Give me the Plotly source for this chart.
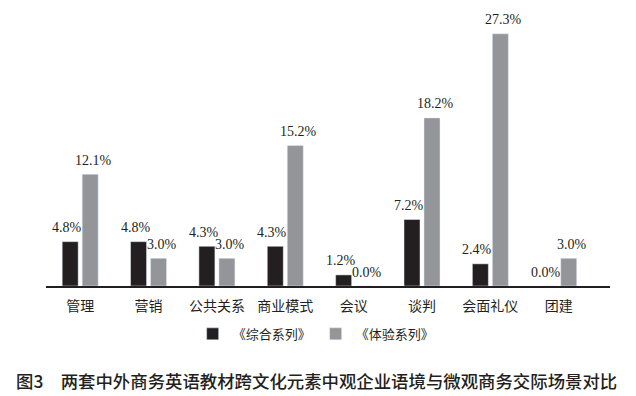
import plotly.graph_objects as go

categories = ["管理", "营销", "公共关系", "商业模式", "会议", "谈判", "会面礼仪", "团建"]
series_names = ["《综合系列》", "《体验系列》"]
zonghe = [4.8, 4.8, 4.3, 4.3, 1.2, 7.2, 2.4, 0.0]
tiyan = [12.1, 3.0, 3.0, 15.2, 0.0, 18.2, 27.3, 3.0]
colors = ["#231f20", "#939598"]
caption = "图3\u2002\u2002两套中外商务英语教材跨文化元素中观企业语境与微观商务交际场景对比"

# label horizontal placement per series (px): bar centre offset + small nudge
label_xshift = [-13, 13]

fig = go.Figure()
annotations = []
for i, (name, vals, col) in enumerate(zip(series_names, [zonghe, tiyan], colors)):
    fig.add_trace(go.Bar(
        x=categories, y=vals, name=name, marker_color=col,
    ))
    for c, v in zip(categories, vals):
        annotations.append(dict(
            x=c, y=v, xref="x", yref="y", text=f"{v:.1f}%", showarrow=False,
            xanchor="center", yanchor="middle", xshift=label_xshift[i], yshift=14,
            font=dict(family="Liberation Serif", size=14, color="#231f20"),
        ))

annotations.append(dict(text=caption, xref="paper", yref="paper", x=-0.0567, y=-0.357,
                        xanchor="left", yanchor="middle", showarrow=False,
                        font=dict(family="Noto Sans CJK SC", size=17.4, color="#231f20",
                                  weight=500)))

fig.update_layout(
    width=628, height=388,
    paper_bgcolor="white", plot_bgcolor="white",
    margin=dict(l=38, r=26, t=12, b=110),
    barmode="group", bargap=0.415, bargroupgap=0.2,
    showlegend=True,
    legend=dict(orientation="h", x=0.479, xanchor="center", y=-0.18, yanchor="middle",
                font=dict(family="Noto Sans CJK SC", size=13, color="#231f20"),
                itemwidth=30, traceorder="normal"),
    xaxis=dict(showline=True, linecolor="#231f20", linewidth=1.5, ticks="",
               range=[-0.5, 7.75], ticklabelstandoff=6,
               tickfont=dict(family="Noto Sans CJK SC", size=14, color="#231f20")),
    yaxis=dict(range=[0, 28.8], visible=False, showgrid=False),
    annotations=annotations,
)
fig.write_html("out.html")
